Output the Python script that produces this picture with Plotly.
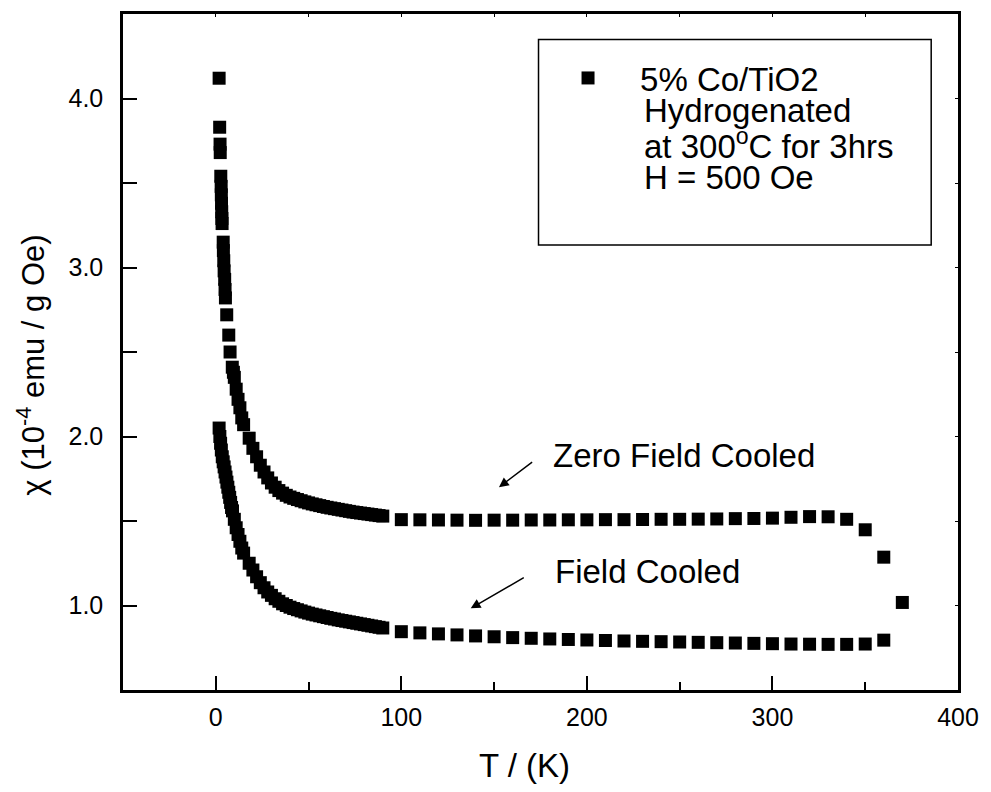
import plotly.graph_objects as go

# ---------------- data ----------------
zfc_T = [1.8, 2.1, 2.3, 2.4, 2.7, 2.9, 3.0, 3.1, 3.2, 3.3, 3.4, 4.0, 4.1, 4.3, 4.5, 4.8, 5.0, 5.2, 5.9,
         7.0, 7.7, 8.9, 9.5, 10.0, 11.0, 12.0, 13.0, 14.0, 15.0,
         18, 20, 22, 24, 26, 28, 30, 32, 34, 36, 38, 40, 42, 44, 46, 48, 50, 52, 54, 56, 58,
         60, 62, 64, 66, 68, 70, 72, 74, 76, 78, 80, 82, 84, 86, 88, 90,
         100, 110, 120, 130, 140, 150, 160, 170, 180, 190, 200, 210, 220, 230, 240, 250,
         260, 270, 280, 290, 300, 310, 320, 330, 340, 350, 360, 370]
zfc_chi = [4.12, 3.83, 3.73, 3.68, 3.54, 3.48, 3.43, 3.38, 3.33, 3.29, 3.26, 3.15, 3.10, 3.04, 2.98, 2.93, 2.87, 2.82, 2.72,
           2.60, 2.50, 2.41, 2.38, 2.35, 2.28, 2.22, 2.17, 2.11, 2.07,
           1.99, 1.93, 1.88, 1.83, 1.79, 1.755, 1.725, 1.70, 1.68, 1.665, 1.652, 1.642, 1.634, 1.627, 1.62, 1.613,
           1.607, 1.601, 1.596, 1.591, 1.586, 1.581, 1.577, 1.573, 1.569, 1.565, 1.561, 1.557, 1.553, 1.55, 1.547,
           1.544, 1.541, 1.538, 1.535, 1.532, 1.529,
           1.508, 1.507, 1.506, 1.505, 1.504, 1.505, 1.505, 1.506, 1.506, 1.507, 1.507, 1.508, 1.508, 1.509, 1.51, 1.51,
           1.511, 1.512, 1.514, 1.515, 1.517, 1.522, 1.526, 1.525, 1.51, 1.448, 1.286, 1.018]

fc_T = [1.8, 2.2, 2.6, 3.0, 3.5, 4.0, 4.5, 5.0, 5.5, 6.0, 6.5, 7.0, 7.5, 8.0, 8.5, 9.0,
        10, 11, 12, 13, 14, 15,
        18, 20, 22, 24, 26, 28, 30, 32, 34, 36, 38, 40, 42, 44, 46, 48, 50, 52, 54, 56, 58,
        60, 62, 64, 66, 68, 70, 72, 74, 76, 78, 80, 82, 84, 86, 88, 90,
        100, 110, 120, 130, 140, 150, 160, 170, 180, 190, 200, 210, 220, 230, 240, 250,
        260, 270, 280, 290, 300, 310, 320, 330, 340, 350, 360]
fc_chi = [2.05, 2.00, 1.96, 1.92, 1.88, 1.85, 1.82, 1.79, 1.76, 1.73, 1.70, 1.67, 1.64, 1.61, 1.58, 1.56,
          1.51, 1.46, 1.42, 1.38, 1.34, 1.31,
          1.25, 1.21, 1.17, 1.135, 1.105, 1.08, 1.06, 1.04, 1.025, 1.01, 1.00, 0.99, 0.982, 0.975, 0.968, 0.961,
          0.955, 0.949, 0.944, 0.939, 0.934, 0.929, 0.924, 0.92, 0.915, 0.911, 0.907, 0.903, 0.899, 0.895, 0.891,
          0.887, 0.883, 0.879, 0.875, 0.871, 0.867,
          0.845, 0.838, 0.832, 0.826, 0.82, 0.815, 0.81, 0.806, 0.802, 0.799, 0.796, 0.793, 0.79, 0.788, 0.786,
          0.784, 0.782, 0.78, 0.778, 0.776, 0.774, 0.772, 0.771, 0.77, 0.77, 0.772, 0.795]

x_ticks = [0, 100, 200, 300, 400]
y_ticks = [1.0, 2.0, 3.0, 4.0]
y_ticktext = ["1.0", "2.0", "3.0", "4.0"]

x_title = "T / (K)"
y_title = "χ (10<sup>-4</sup> emu / g Oe)"
legend_lines = ["5% Co/TiO2", "Hydrogenated", "at 300<sup>o</sup>C for 3hrs", "H = 500 Oe"]
labels = [("Zero Field Cooled", 180.5, 1.889, 171.3, 1.855, 152.6, 1.70),
          ("Field Cooled", 181.5, 1.20, 166.8, 1.17, 137.4, 0.983)]

FONT = "Liberation Sans, Arial, Helvetica, sans-serif"
TXT = 33

# plot-area geometry (px)
L, R, T, B = 123, 964, 14, 690
W, H = R - L, B - T

fig = go.Figure()
fig.add_trace(go.Scatter(x=zfc_T, y=zfc_chi, mode="markers", name=legend_lines[0],
                         marker=dict(symbol="square", size=13, color="black", line=dict(width=0)),
                         showlegend=True))
fig.add_trace(go.Scatter(x=fc_T, y=fc_chi, mode="markers", name="FC",
                         marker=dict(symbol="square", size=13, color="black", line=dict(width=0)),
                         showlegend=False))

axis_common = dict(showgrid=False, zeroline=False, showline=True, linecolor="black", linewidth=2.5,
                   ticks="inside", tickcolor="black", tickwidth=1.5, ticklen=14,
                   tickfont=dict(family=FONT, size=25, color="black"))

fig.update_layout(
    width=991, height=792,
    margin=dict(l=L, r=991 - R, t=T, b=792 - B),
    paper_bgcolor="white", plot_bgcolor="white",
    font=dict(family=FONT, color="black"),
    xaxis=dict(range=[-50, 400], tickvals=x_ticks, ticklabelstandoff=3,
               minor=dict(dtick=50, tick0=0, ticks="inside", ticklen=8, tickwidth=1.5, tickcolor="black"),
               **axis_common),
    yaxis=dict(range=[0.5, 4.5], tickvals=y_ticks, ticktext=y_ticktext, ticklabelstandoff=12,
               minor=dict(dtick=0.5, tick0=0, ticks="inside", ticklen=14, tickwidth=1.5, tickcolor="black"),
               **axis_common),
    xaxis2=dict(overlaying="x", matches="x", side="top", range=[-50, 400], showline=True, linecolor="black",
                linewidth=2.5, ticks="inside", ticklen=3, tickcolor="black", showticklabels=False,
                showgrid=False, zeroline=False, tickvals=x_ticks,
                minor=dict(dtick=50, tick0=0, ticks="inside", ticklen=3, tickcolor="black")),
    yaxis2=dict(overlaying="y", matches="y", side="right", range=[0.5, 4.5], showline=True, linecolor="black",
                linewidth=2.5, ticks="inside", ticklen=3, tickcolor="black", showticklabels=False,
                showgrid=False, zeroline=False, tickvals=y_ticks,
                minor=dict(dtick=0.5, tick0=0, ticks="inside", ticklen=3, tickcolor="black")),
    legend=dict(x=(539 - L) / W, y=(B - 50) / H, xanchor="left", yanchor="top", bgcolor="rgba(0,0,0,0)",
                borderwidth=0, font=dict(family=FONT, size=TXT, color="black"), itemwidth=94,
                tracegroupgap=0),
    showlegend=True,
)
# invisible trace to activate the mirrored (top/right) axes
fig.add_trace(go.Scatter(x=[None], y=[None], xaxis="x2", yaxis="y2", showlegend=False, hoverinfo="skip"))

# axis titles
fig.add_annotation(xref="paper", yref="paper", x=(527 - L) / W, y=(B - 765) / H, text=x_title,
                   showarrow=False, xanchor="center", yanchor="middle",
                   font=dict(family=FONT, size=TXT, color="black"))
fig.add_annotation(xref="paper", yref="paper", x=(30 - L) / W, y=(B - 365) / H, text=y_title,
                   showarrow=False, xanchor="center", yanchor="middle", textangle=-90,
                   font=dict(family=FONT, size=31, color="black"))

# legend box
fig.add_shape(type="rect", xref="paper", yref="paper",
              x0=(541.5 - L) / W, x1=(937 - L) / W,
              y0=(B - 245) / H, y1=(B - 39.5) / H,
              line=dict(color="black", width=1.5), fillcolor="rgba(0,0,0,0)")

for i, line in enumerate(legend_lines[1:]):
    fig.add_annotation(xref="paper", yref="paper", x=(646 - L) / W, y=(B - (110.5 + 33.3 * i)) / H,
                       xanchor="left", yanchor="middle", text=line, showarrow=False,
                       font=dict(family=FONT, size=TXT, color="black"))

for text, tx, ty, x0, y0, x1, y1 in labels:
    fig.add_annotation(x=tx, y=ty, xref="x", yref="y", text=text, xanchor="left", yanchor="middle",
                       showarrow=False, font=dict(family=FONT, size=TXT, color="black"))
    fig.add_annotation(x=x1, y=y1, ax=x0, ay=y0, xref="x", yref="y", axref="x", ayref="y",
                       text="", showarrow=True, arrowhead=2, arrowsize=1.3, arrowwidth=1.5,
                       arrowcolor="black", standoff=0, startstandoff=0)

fig.write_html("out.html")
